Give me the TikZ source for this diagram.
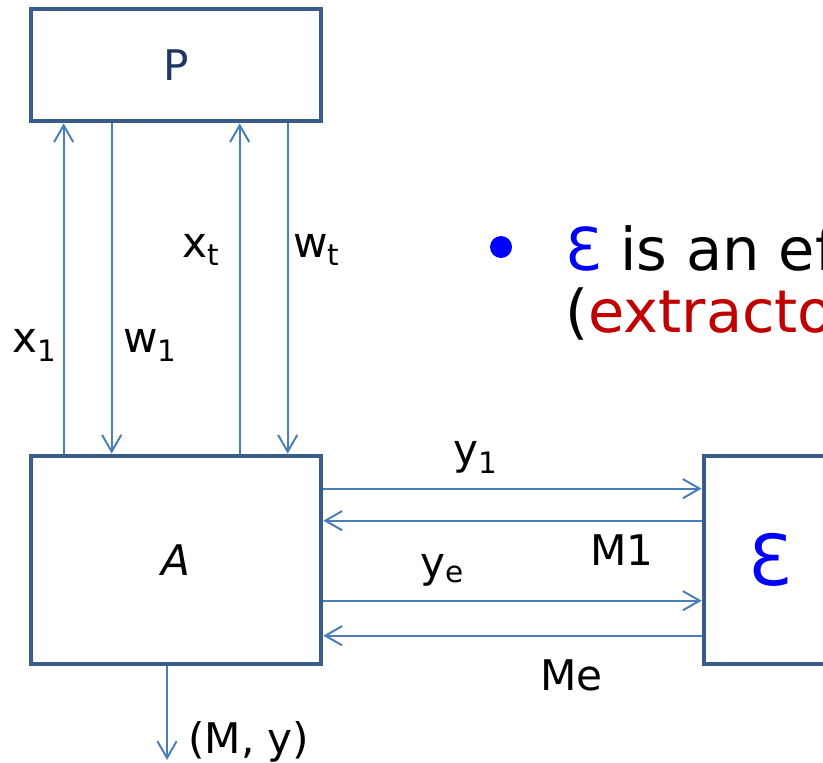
\documentclass[tikz,border=0pt]{standalone}
\usepackage{fontspec}
\setmainfont{DejaVu Sans}
\usetikzlibrary{arrows.meta, positioning}
\definecolor{boxline}{HTML}{385D8A}
\definecolor{linkblue}{HTML}{4A7EBB}
\definecolor{navy}{HTML}{1F3864}
\definecolor{darkred}{HTML}{C00000}
\definecolor{epsblue}{HTML}{0000FF}

\begin{document}
\begin{tikzpicture}[x=0.025cm, y=-0.025cm,
  party/.style={draw=boxline, line width=3.3pt, minimum width=7.25cm, inner sep=0pt},
  msg/.style={linkblue, line width=1.4pt, -{Straight Barb[length=0.42cm, width=0.48cm]}},
  lbl/.style={font=\fontsize{30}{36}\selectfont, inner sep=0pt, anchor=base west},
  claimtext/.style={font=\fontsize{42}{50}\selectfont, inner sep=0pt, anchor=base west}]
  \useasboundingbox (0,0) rectangle (823,763);
  \clip (0,0) rectangle (823,763);

  % Parties
  \node[party, minimum height=2.8cm, font=\fontsize{30}{36}\selectfont, text=navy] (P) at (176,65) {P};
  \node[party, minimum height=5.2cm, font=\fontsize{30}{36}\selectfont\itshape] (A) at (176,560) {A};
  \node[party, minimum width=3.3cm, minimum height=5.2cm, font=\fontsize{50}{60}\selectfont, text=epsblue] (E) at (770,560) {Ɛ};

  % Queries of A to P
  \draw[msg] ([xshift=0.875cm]A.north west) -- ([xshift=0.875cm]P.south west);
  \draw[msg] ([xshift=2.075cm]P.south west) -- ([xshift=2.075cm]A.north west);
  \draw[msg] ([xshift=5.275cm]A.north west) -- ([xshift=5.275cm]P.south west);
  \draw[msg] ([xshift=6.475cm]P.south west) -- ([xshift=6.475cm]A.north west);
  \node[lbl] (x1) at (12,352) {x\textsubscript{1}};
  \node[lbl] (w1) at (123,352) {w\textsubscript{1}};
  \node[lbl] (xt) at (182,257) {x\textsubscript{t}};
  \node[lbl] (wt) at (293,257) {w\textsubscript{t}};

  % Messages between A and the extractor
  \draw[msg] ([yshift=-0.875cm]A.north east) -- ([yshift=-0.875cm]E.north west);
  \draw[msg] ([yshift=-1.675cm]E.north west) -- ([yshift=-1.675cm]A.north east);
  \draw[msg] ([yshift=-3.675cm]A.north east) -- ([yshift=-3.675cm]E.north west);
  \draw[msg] ([yshift=-4.55cm]E.north west) -- ([yshift=-4.55cm]A.north east);
  \node[lbl] (y1) at (453,464) {y\textsubscript{1}};
  \node[lbl] (M1) at (590,565) {M1};
  \node[lbl] (ye) at (420,577) {y\textsubscript{e}};
  \node[lbl] (Me) at (540,690) {Me};

  % Output of A
  \coordinate (out) at (167,760);
  \draw[msg] (A.south -| out) -- (out);
  \node[lbl] (My) at (188,753) {(M, y)};

  % Bullet text
  \node[circle, fill=epsblue, minimum size=0.55cm, inner sep=0pt] (dot) at (501,247) {};
  \node[claimtext] (claim) at (565,270) {\textcolor{epsblue}{Ɛ} is an efficient};
  \node[claimtext] (role) at (565,332) {(\textcolor{darkred}{extractor})};
\end{tikzpicture}
\end{document}
